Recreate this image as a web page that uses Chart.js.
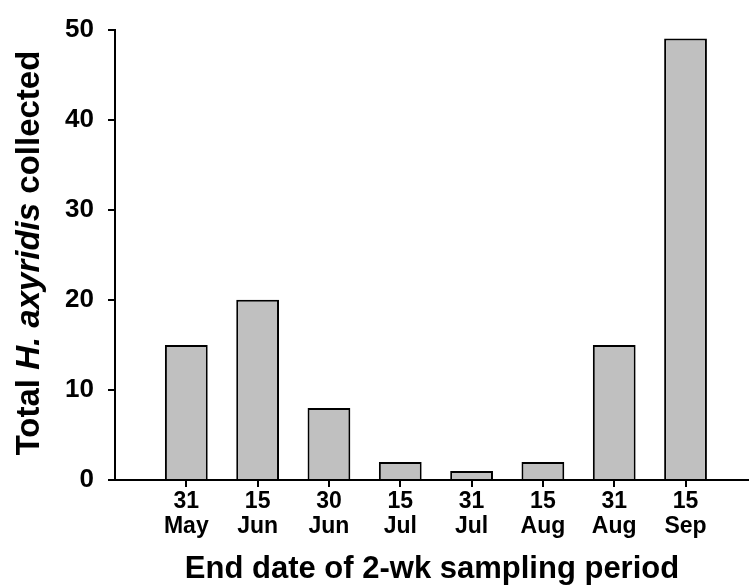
<!DOCTYPE html>
<html>
<head>
<meta charset="utf-8">
<script src="https://cdn.jsdelivr.net/npm/chart.js@4.4.0/dist/chart.umd.min.js"></script>
<style>
  html, body { margin: 0; padding: 0; background: #fff; }
  #wrap { width: 749px; height: 588px; }
</style>
</head>
<body>
<div id="wrap"><canvas id="collected"></canvas></div>
<script>
// sampling period end dates (day, month) and totals
const periodDays = ['31', '15', '30', '15', '31', '15', '31', '15'];
const periodMonths = ['May', 'Jun', 'Jun', 'Jul', 'Jul', 'Aug', 'Aug', 'Sep'];
const totalCollected = [15, 20, 8, 2, 1, 2, 15, 49];
const yTicks = [0, 10, 20, 30, 40, 50];

const FONT = 'Arial, "Liberation Sans", sans-serif';

// y title has an italic species name, so draw it by hand
const yTitlePlugin = {
  id: 'yTitle',
  afterDraw(chart) {
    const ctx = chart.ctx;
    const size = 33;
    const parts = [
      { text: 'Total ', font: 'bold ' + size + 'px ' + FONT },
      { text: 'H. axyridis', font: 'italic bold ' + size + 'px ' + FONT },
      { text: ' collected', font: 'bold ' + size + 'px ' + FONT }
    ];
    let total = 0;
    parts.forEach((p) => {
      ctx.font = p.font;
      p.w = ctx.measureText(p.text).width;
      total += p.w;
    });
    ctx.save();
    ctx.translate(39, 253);
    ctx.rotate(-Math.PI / 2);
    ctx.fillStyle = '#000';
    ctx.textBaseline = 'alphabetic';
    ctx.textAlign = 'left';
    let x = -total / 2;
    parts.forEach((p) => {
      ctx.font = p.font;
      ctx.fillText(p.text, x, 0);
      x += p.w;
    });
    ctx.restore();
  }
};

const ctx = document.getElementById('collected').getContext('2d');

new Chart(ctx, {
  type: 'bar',
  data: {
    datasets: [
      {
        label: 'Total collected',
        data: totalCollected.map((v, i) => ({ x: i + 1, y: v })),
        backgroundColor: '#c0c0c0',
        borderColor: '#000',
        borderWidth: 2,
        borderSkipped: 'bottom',
        barPercentage: 0.6,
        categoryPercentage: 1
      }
    ]
  },
  options: {
    responsive: true,
    maintainAspectRatio: false,
    animation: false,
    layout: {
      padding: { top: 26, right: 0, left: 0, bottom: 0 }
    },
    scales: {
      x: {
        type: 'linear',
        min: 0,
        max: 8.89,
        offset: false,
        afterBuildTicks: (scale) => {
          scale.ticks = periodDays.map((_, i) => ({ value: i + 1 }));
        },
        afterFit: (scale) => {
          scale.height = 108;
        },
        ticks: {
          color: '#000',
          font: { family: FONT, size: 23, weight: 'bold', lineHeight: 1.1 },
          padding: 2,
          maxRotation: 0,
          autoSkip: false,
          callback: (value) => {
            const i = Math.round(value) - 1;
            return [periodDays[i], periodMonths[i]];
          }
        },
        grid: {
          offset: false,
          drawOnChartArea: false,
          color: '#000',
          lineWidth: 2,
          tickLength: 7
        },
        border: { color: '#000', width: 2 },
        title: {
          display: true,
          text: 'End date of 2-wk sampling period',
          color: '#000',
          font: { family: FONT, size: 31, weight: 'bold' },
          padding: { top: 0, bottom: 0 }
        }
      },
      y: {
        min: 0,
        max: 50,
        afterBuildTicks: (scale) => {
          scale.ticks = yTicks.map((v) => ({ value: v }));
        },
        afterFit: (scale) => {
          scale.width = 115;
        },
        ticks: {
          color: '#000',
          font: { family: FONT, size: 26, weight: 'bold' },
          padding: 14
        },
        grid: {
          drawOnChartArea: false,
          color: '#000',
          lineWidth: 2,
          tickLength: 7
        },
        border: { color: '#000', width: 2 }
      }
    },
    plugins: {
      legend: { display: false },
      title: { display: false },
      tooltip: { enabled: false }
    }
  },
  plugins: [yTitlePlugin]
});
</script>
</body>
</html>
